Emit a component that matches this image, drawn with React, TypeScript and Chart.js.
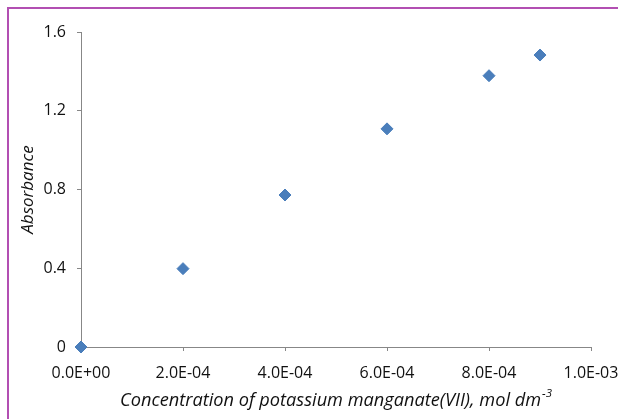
import React, { useEffect, useRef } from "react";
import { Chart, registerables } from "chart.js";

Chart.register(...registerables);

const concentrations: number[] = [0, 0.0002, 0.0004, 0.0006, 0.0008, 0.0009];
const absorbances: number[] = [0, 0.398, 0.772, 1.108, 1.378, 1.483];
const xTitleMain = "Concentration of potassium manganate(VII), mol dm";
const xTitleSup = "-3";
const yTitle = "Absorbance";

const FONT = "'Open Sans', 'Noto Sans', sans-serif";

function fmtExp(v: number): string {
  if (Math.abs(v) < 1e-12) return "0.0E+00";
  let e = Math.floor(Math.log10(Math.abs(v)) + 1e-9);
  let m = v / Math.pow(10, e);
  let ms = m.toFixed(1);
  if (ms === "10.0") {
    e += 1;
    ms = "1.0";
  }
  const sign = e < 0 ? "-" : "+";
  const ae = Math.abs(e);
  return ms + "E" + sign + (ae < 10 ? "0" + ae : String(ae));
}

const xTitlePlugin = {
  id: "xTitlePlugin",
  afterDraw(chart: any) {
    const ctx = chart.ctx;
    const area = chart.chartArea;
    ctx.save();
    ctx.fillStyle = "#111111";
    ctx.textBaseline = "middle";
    ctx.textAlign = "left";
    const mainFont = "italic 18.2px " + FONT;
    const supFont = "italic 11.5px " + FONT;
    ctx.font = mainFont;
    const w1 = ctx.measureText(xTitleMain).width;
    ctx.font = supFont;
    const w2 = ctx.measureText(xTitleSup).width;
    const total = w1 + w2 + 1;
    const cx = (area.left + area.right) / 2;
    const x0 = cx - total / 2;
    const y = 401;
    ctx.font = mainFont;
    ctx.fillText(xTitleMain, x0, y);
    ctx.font = supFont;
    ctx.fillText(xTitleSup, x0 + w1 + 1, y - 7);
    ctx.restore();
  },
};

export default function App() {
  const ref = useRef<HTMLCanvasElement | null>(null);
  useEffect(() => {
    if (!ref.current) return;
    const data = concentrations.map((x, i) => ({ x, y: absorbances[i] }));
    const chart = new Chart(ref.current, {
      type: "scatter",
      data: {
        datasets: [
          {
            data,
            pointStyle: "rectRot",
            pointRadius: 6,
            pointBackgroundColor: "#4a7ebb",
            pointBorderColor: "#4a7ebb",
            pointBorderWidth: 1,
            clip: false as any,
          },
        ],
      },
      options: {
        responsive: false,
        animation: false,
        events: [],
        layout: { padding: { top: 32, right: 27, left: 0, bottom: 0 } },
        plugins: {
          legend: { display: false },
          tooltip: { enabled: false },
        },
        scales: {
          x: {
            type: "linear",
            min: 0,
            max: 0.001,
            afterFit: (s: any) => {
              s.height = 72;
              s.paddingLeft = 0;
              s.paddingRight = 0;
            },
            border: { display: true, color: "#878787", width: 1 },
            grid: {
              display: true,
              drawOnChartArea: false,
              drawTicks: true,
              tickLength: 4,
              color: "#878787",
            },
            ticks: {
              stepSize: 0.0002,
              padding: 13,
              color: "#111111",
              font: { family: FONT, size: 16 },
              maxRotation: 0,
              autoSkip: false,
              callback: (v: any) => fmtExp(Number(v)),
            },
          },
          y: {
            type: "linear",
            min: 0,
            max: 1.6,
            afterFit: (s: any) => {
              s.width = 81;
              s.paddingTop = 0;
              s.paddingBottom = 0;
            },
            border: { display: true, color: "#878787", width: 1 },
            grid: {
              display: true,
              drawOnChartArea: false,
              drawTicks: true,
              tickLength: 4,
              color: "#878787",
            },
            title: {
              display: true,
              text: yTitle,
              color: "#111111",
              font: { family: FONT, size: 17, style: "italic" },
              padding: { top: 18, bottom: 0 },
            },
            ticks: {
              stepSize: 0.4,
              padding: 11,
              color: "#111111",
              font: { family: FONT, size: 16 },
              callback: (v: any) => {
                const n = Math.round(Number(v) * 10) / 10;
                return n === 0 ? "0" : n.toFixed(1);
              },
            },
          },
        },
      },
      plugins: [xTitlePlugin],
    });
    return () => chart.destroy();
  }, []);

  return (
    <div
      style={{
        position: "fixed",
        left: 0,
        top: 0,
        width: 618,
        height: 419,
        background: "#ffffff",
        overflow: "hidden",
      }}
    >
      <canvas
        ref={ref}
        width={618}
        height={419}
        style={{ position: "absolute", left: 0, top: 0, width: 618, height: 419 }}
      />
      <div
        style={{
          position: "absolute",
          left: 7,
          top: 7,
          width: 640,
          height: 440,
          borderLeft: "2px solid #b24fb2",
          borderTop: "2px solid #b24fb2",
          pointerEvents: "none",
        }}
      />
    </div>
  );
}
